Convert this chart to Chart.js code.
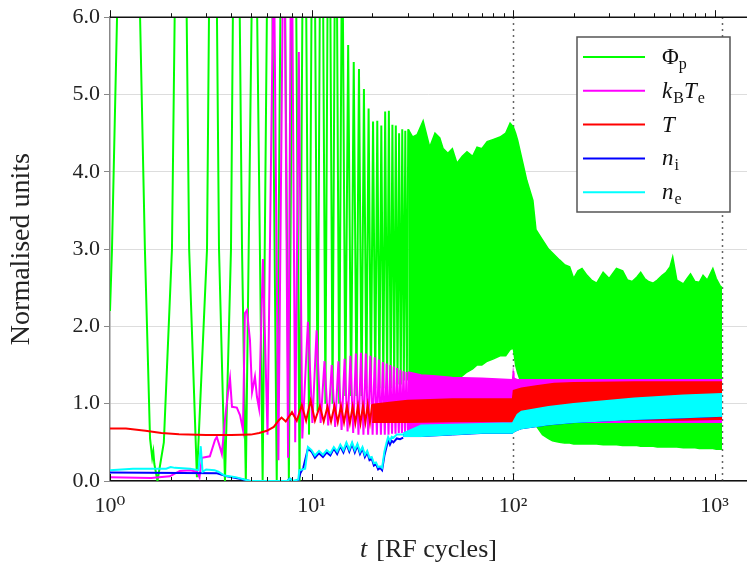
<!DOCTYPE html>
<html>
<head>
<meta charset="utf-8">
<title>Normalised units vs RF cycles</title>
<script src="https://cdn.jsdelivr.net/npm/chart.js@4.4.1/dist/chart.umd.min.js"></script>
<style>
    html, body { margin: 0; padding: 0; background: #fff; }
    #myChart { display: block; }
</style>
</head>
<body>
<canvas id="myChart" width="747" height="572"></canvas>
<script>
// tick labels and titles
const xTickLabels = {1: '10⁰', 10: '10¹', 100: '10²', 1000: '10³'};
const yTitle = 'Normalised units';
const markerTimes = [100, 1090];

// legend names, split into parts for italic / subscript
const seriesLabels = [
    [{t: 'Φ'}, {t: 'p', sub: true}],
    [{t: 'k', it: true}, {t: 'B', sub: true}, {t: 'T', it: true}, {t: 'e', sub: true}],
    [{t: 'T', it: true}],
    [{t: 'n', it: true}, {t: 'i', sub: true}],
    [{t: 'n', it: true}, {t: 'e', sub: true}]
];
const seriesColors = ['#00ff00', '#ff00ff', '#ff0000', '#0000ff', '#00ffff'];

// Phi_p : single cycles up to ~30 RF cycles
const phiT = [1.0, 1.023, 1.24, 1.49, 1.58, 1.62, 1.64, 1.66, 1.72, 1.85, 2.03, 2.25, 2.47, 2.70,
    3.03, 3.24, 3.475, 3.72, 3.985, 4.22, 4.52, 4.72, 5.21, 5.72, 6.2, 6.72, 7.2, 7.72, 8.2, 8.72,
    9.2, 9.72, 10.2, 10.72, 11.2, 11.72, 12.2, 12.72, 13.2, 13.72, 14.2, 14.72, 15.2, 15.72,
    16.2, 16.72, 17.2, 17.72, 18.2, 18.72, 19.2, 19.72, 20.2, 20.72, 21.2, 21.72, 22.2, 22.72,
    23.2, 23.72, 24.2, 24.72, 25.2, 25.72, 26.2, 26.72, 27.2, 27.72, 28.2, 28.72, 29.2, 29.72, 30.2];
const phiV = [2.2, 3.0, 13, 3.0, 0.55, 0.3, 0.38, 0.22, 0.0, 0.5, 3.0, 13, 3.0, 0.05,
    3.0, 12, 3.0, 0.0, 3.0, 11, 3.0, 0.0, 9, 0.0, 10, 0.0, 10, 0.0, 10, 0.0,
    10, 0.6, 10, 0.9, 10, 1.0, 9.5, 1.0, 9, 1.0, 7.5, 1.1, 5.64, 1.1,
    5.42, 1.1, 5.33, 1.1, 5.07, 1.2, 4.82, 1.2, 4.65, 1.2, 4.66, 1.2, 4.6, 1.2,
    4.78, 1.2, 4.79, 1.2, 4.61, 1.25, 4.6, 1.25, 4.5, 1.25, 4.55, 1.3, 4.53, 1.3, 4.55];
// Phi_p : envelope of the dense oscillation
const phiBandT = [30.2, 31.8, 33.4, 35.8, 38.6, 41, 43.3, 45, 47.5, 50, 52.7, 56, 59.1, 63, 66.3,
    70, 74.4, 80, 86.2, 92, 96.7, 100.3, 103, 105.4, 112, 117, 125.5, 130, 140, 150, 157, 170,
    180, 191, 200, 210, 220, 233, 245, 260, 280, 300, 326, 350, 370, 390, 412, 430, 450, 470,
    496, 520, 550, 575, 601, 620, 650, 700, 731, 760, 800, 840, 877, 920, 981, 1020, 1063, 1090];
const phiUp = [4.55, 4.45, 4.48, 4.66, 4.32, 4.5, 4.44, 4.3, 4.24, 4.3, 4.11, 4.2, 4.26, 4.2, 4.32,
    4.3, 4.39, 4.42, 4.45, 4.5, 4.63, 4.58, 4.5, 4.41, 4.11, 3.89, 3.63, 3.25, 3.12, 3.0, 2.95, 2.86,
    2.8, 2.77, 2.62, 2.72, 2.75, 2.66, 2.6, 2.56, 2.7, 2.62, 2.75, 2.72, 2.6, 2.58, 2.64, 2.7, 2.62, 2.58,
    2.56, 2.6, 2.66, 2.7, 2.77, 2.9, 2.6, 2.55, 2.62, 2.68, 2.58, 2.57, 2.66, 2.6, 2.75, 2.62, 2.53, 2.5];
const phiLo = [1.3, 1.3, 1.3, 1.3, 1.3, 1.3, 1.3, 1.3, 1.3, 1.3, 1.32, 1.36, 1.41, 1.45, 1.5,
    1.5, 1.55, 1.58, 1.62, 1.62, 1.7, 1.72, 1.5, 1.4, 1.2, 1.05, 0.85, 0.72, 0.6, 0.55, 0.52, 0.5,
    0.49, 0.49, 0.48, 0.48, 0.48, 0.48, 0.48, 0.48, 0.47, 0.47, 0.47, 0.46, 0.46, 0.46, 0.46, 0.45, 0.45, 0.45,
    0.45, 0.44, 0.44, 0.44, 0.44, 0.44, 0.44, 0.43, 0.43, 0.43, 0.43, 0.42, 0.42, 0.42, 0.42, 0.41, 0.41, 0.41];

// k_B T_e
const teT = [1.0, 1.6, 1.98, 2.22, 2.5, 2.7, 2.78, 2.86, 3.13, 3.32, 3.39, 3.51, 3.59, 3.72, 3.85,
    3.94, 4.03, 4.26, 4.42, 4.57, 4.67, 4.78, 4.95, 5.07, 5.24, 5.36, 5.49, 5.74, 6.05, 6.5, 6.85,
    7.3, 7.65, 7.95, 8.3, 8.65, 9.0, 9.6, 10.1, 10.6, 11.1, 11.6, 12.1, 12.6, 13.1, 13.6, 14.1,
    14.6, 15.1, 15.6, 16.1, 16.6, 17.1, 17.6, 18.1, 18.6, 19.1, 19.6, 20.1, 20.6, 21.1, 21.6, 22.1,
    22.6, 23.1, 23.6, 24.1, 24.6, 25.1, 25.6, 26.1, 26.6, 27.1, 27.6, 28.1, 28.6, 29.1, 29.6, 30.1];
const teV = [0.05, 0.04, 0.06, 0.13, 0.14, 0.12, 0.05, 0.3, 0.32, 0.53, 0.57, 0.44, 0.35, 0.79, 1.14,
    1.33, 0.96, 0.95, 0.85, 0.66, 2.17, 2.21, 1.82, 1.15, 1.35, 1.09, 0.94, 2.87, 0.6, 7, 0.27,
    8, 0.3, 8, 0.5, 5.55, 0.55, 2.06, 0.75, 1.95, 0.75, 1.55, 0.72, 1.5, 0.7, 1.55, 0.66,
    1.58, 0.64, 1.62, 0.62, 1.65, 0.6, 1.66, 0.6, 1.65, 0.6, 1.62, 0.6, 1.6, 0.6, 1.57, 0.6,
    1.54, 0.6, 1.52, 0.6, 1.5, 0.61, 1.48, 0.61, 1.46, 0.62, 1.44, 0.62, 1.42, 0.63, 1.41, 0.63];
const teBandT = [30.1, 35, 40, 50, 70, 99.5, 100.2, 101, 105, 130, 200, 400, 700, 1090];
const teUp = [1.41, 1.37, 1.36, 1.34, 1.33, 1.31, 1.4, 1.33, 1.31, 1.31, 1.31, 1.31, 1.31, 1.31];
const teLo = [0.63, 0.68, 0.7, 0.72, 0.73, 0.74, 0.75, 0.75, 0.75, 0.75, 0.76, 0.76, 0.76, 0.76];

// T
const tempT = [1.0, 1.2, 1.5, 1.8, 2.2, 3.0, 4.0, 5.0, 5.5, 6.0, 6.5, 6.85, 7.1, 7.45, 8.0, 8.45,
    8.95, 9.4, 9.9, 10.4, 11.0, 11.5, 12.0, 12.5, 13.0, 13.5, 14.0, 14.5, 15.0, 15.5, 16.0, 16.5,
    17.0, 17.5, 18.0, 18.5, 19.0, 19.5, 20.0];
const tempV = [0.68, 0.68, 0.65, 0.62, 0.605, 0.595, 0.595, 0.6, 0.62, 0.65, 0.7, 0.78, 0.82, 0.77, 0.89, 0.78,
    0.98, 0.78, 1.04, 0.78, 0.97, 0.77, 0.96, 0.77, 0.97, 0.76, 0.97, 0.76, 0.97, 0.75, 0.96, 0.75,
    0.97, 0.75, 0.97, 0.76, 0.98, 0.76, 0.99];
const tempBandT = [20, 25, 30, 50, 99.5, 100.5, 110, 130, 160, 200, 400, 700, 1090];
const tempUp = [0.99, 1.02, 1.04, 1.06, 1.06, 1.17, 1.2, 1.23, 1.26, 1.27, 1.28, 1.28, 1.28];
const tempLo = [0.76, 0.76, 0.76, 0.77, 0.77, 0.78, 0.78, 0.78, 0.78, 0.78, 0.79, 0.79, 0.8];

// n_i
const niT = [1.0, 3.4, 3.8, 4.4, 4.95, 7.6, 7.8, 8.1, 8.6, 8.8, 9.1, 9.6, 10.0, 10.4, 10.9, 11.4,
    11.9, 12.4, 12.9, 13.4, 13.9, 14.4, 14.9, 15.4, 15.9, 16.4, 16.9, 17.4, 17.9, 18.4, 18.9, 19.4,
    19.9, 20.4, 20.9, 21.4, 21.9, 22.4, 23.0, 23.6, 24.0, 24.5, 25.0, 25.5, 26.5, 27.5, 28.5];
const niV = [0.11, 0.1, 0.06, 0.03, 0.0, 0.0, 0.03, 0.0, 0.0, 0.1, 0.17, 0.42, 0.38, 0.3, 0.36, 0.31,
    0.37, 0.33, 0.42, 0.35, 0.45, 0.37, 0.48, 0.38, 0.48, 0.37, 0.46, 0.35, 0.42, 0.31, 0.37, 0.27,
    0.29, 0.2, 0.22, 0.15, 0.17, 0.14, 0.33, 0.45, 0.53, 0.47, 0.52, 0.5, 0.55, 0.54, 0.56];
const niBandT = [28.5, 35, 50, 70, 99.5, 101, 105, 110, 150, 200, 400, 700, 1090];
const niUp = [0.6, 0.68, 0.7, 0.71, 0.72, 0.76, 0.84, 0.88, 0.94, 0.98, 1.05, 1.09, 1.11];
const niLo = [0.575, 0.575, 0.595, 0.615, 0.615, 0.635, 0.655, 0.675, 0.725, 0.755, 0.795, 0.815, 0.835];

// n_e
const neT = [1.0, 1.3, 1.9, 2.0, 2.1, 2.5, 2.75, 2.82, 2.88, 3.0, 3.3, 3.45, 3.7, 4.2, 4.95, 7.6,
    7.8, 8.1, 8.6, 8.7, 9.3, 9.6, 10.0, 10.4, 10.9, 11.4, 11.9, 12.4, 12.9, 13.4, 13.9, 14.4,
    14.9, 15.4, 15.9, 16.4, 16.9, 17.4, 17.9, 18.4, 18.9, 19.4, 19.9, 20.4, 20.9, 21.4, 21.9,
    22.4, 23.0, 23.6, 24.0, 24.5, 25.0, 25.5, 26.5, 27.5, 28.5];
const neV = [0.14, 0.16, 0.16, 0.18, 0.17, 0.16, 0.14, 0.45, 0.12, 0.15, 0.14, 0.12, 0.07, 0.05, 0.0, 0.0,
    0.03, 0.0, 0.02, 0.14, 0.16, 0.44, 0.4, 0.33, 0.39, 0.34, 0.4, 0.36, 0.44, 0.38, 0.47, 0.4,
    0.5, 0.41, 0.5, 0.4, 0.48, 0.38, 0.44, 0.34, 0.39, 0.3, 0.31, 0.23, 0.24, 0.18, 0.19,
    0.17, 0.38, 0.5, 0.57, 0.52, 0.57, 0.56, 0.6, 0.6, 0.6];
const neBandT = [28.5, 35, 50, 70, 99.5, 101, 105, 110, 150, 200, 400, 700, 1090];
const neUp = [0.62, 0.72, 0.73, 0.74, 0.75, 0.78, 0.86, 0.9, 0.96, 1.0, 1.07, 1.11, 1.13];
const neLo = [0.58, 0.58, 0.6, 0.62, 0.62, 0.64, 0.66, 0.68, 0.73, 0.76, 0.8, 0.82, 0.84];

const serif = '"Liberation Serif", "DejaVu Serif", serif';

function pts(ts, vs) {
    return ts.map((t, i) => ({x: t, y: vs[i]}));
}

function curve(ts, vs, color, order) {
    return {data: pts(ts, vs), borderColor: color, backgroundColor: color, borderWidth: 2,
        pointRadius: 0, tension: 0, fill: false, order: order};
}

// upper edge filled down to the lower edge (next dataset)
function band(ts, up, lo, color, order, width) {
    return [
        {data: pts(ts, up), borderColor: color, backgroundColor: color, borderWidth: width,
            pointRadius: 0, tension: 0, fill: '+1', order: order},
        {data: pts(ts, lo), borderColor: color, backgroundColor: color, borderWidth: width,
            pointRadius: 0, tension: 0, fill: false, order: order}
    ];
}

const datasets = [
    curve(neT, neV, seriesColors[4], 1), ...band(neBandT, neUp, neLo, seriesColors[4], 1, 1.5),
    curve(niT, niV, seriesColors[3], 2), ...band(niBandT, niUp, niLo, seriesColors[3], 2, 1),
    curve(tempT, tempV, seriesColors[2], 3), ...band(tempBandT, tempUp, tempLo, seriesColors[2], 3, 1.5),
    curve(teT, teV, seriesColors[1], 4), ...band(teBandT, teUp, teLo, seriesColors[1], 4, 1.5),
    curve(phiT, phiV, seriesColors[0], 5), ...band(phiBandT, phiUp, phiLo, seriesColors[0], 5, 1.5)
];

function drawParts(ctx, parts, x, y, size) {
    parts.forEach(p => {
        const fs = p.sub ? Math.round(size * 0.7) : size;
        ctx.font = (p.it ? 'italic ' : '') + fs + 'px ' + serif;
        ctx.fillText(p.t, x, p.sub ? y + 5 : y);
        x += ctx.measureText(p.t).width + (p.it ? 1 : 0);
    });
}

const decor = {
    id: 'decor',
    beforeDatasetsDraw(chart) {
        const {ctx, chartArea: a, scales: {x}} = chart;
        ctx.save();
        ctx.strokeStyle = '#333';
        ctx.lineWidth = 1.5;
        ctx.setLineDash([1.5, 4.5]);
        markerTimes.forEach(t => {
            const px = Math.round(x.getPixelForValue(t)) + 0.5;
            ctx.beginPath();
            ctx.moveTo(px, a.top);
            ctx.lineTo(px, a.bottom);
            ctx.stroke();
        });
        ctx.restore();
    },
    afterDatasetsDraw(chart) {
        const {ctx, chartArea: a, scales: {x}} = chart;
        ctx.save();
        ctx.strokeStyle = '#111';
        ctx.lineWidth = 1.5;
        ctx.beginPath();
        ctx.moveTo(a.left, a.top);
        ctx.lineTo(a.right, a.top);
        ctx.stroke();
        ctx.lineWidth = 1;
        for (let e = 0; e <= 3; e++) {
            for (let k = 1; k <= 9; k++) {
                const v = k * Math.pow(10, e);
                if (v > x.max) break;
                const px = Math.round(x.getPixelForValue(v)) + 0.5;
                const len = k === 1 ? 7 : 4;
                ctx.beginPath();
                ctx.moveTo(px, a.top);
                ctx.lineTo(px, a.top - len);
                ctx.moveTo(px, a.bottom);
                ctx.lineTo(px, a.bottom - len);
                ctx.stroke();
            }
        }
        ctx.restore();
    },
    afterDraw(chart) {
        const {ctx, chartArea: a} = chart;
        ctx.save();
        // legend
        const bx = 577, by = 37, bw = 153, bh = 175;
        ctx.fillStyle = '#fff';
        ctx.fillRect(bx, by, bw, bh);
        ctx.strokeStyle = '#555';
        ctx.lineWidth = 1.5;
        ctx.strokeRect(bx, by, bw, bh);
        seriesLabels.forEach((parts, i) => {
            const y = 57 + i * 33.8;
            ctx.strokeStyle = seriesColors[i];
            ctx.lineWidth = 2;
            ctx.beginPath();
            ctx.moveTo(583, y);
            ctx.lineTo(645, y);
            ctx.stroke();
            ctx.fillStyle = '#111';
            ctx.textBaseline = 'alphabetic';
            drawParts(ctx, parts, 662, y + 7, 23);
        });
        // axis titles
        ctx.fillStyle = '#222';
        ctx.textAlign = 'center';
        ctx.textBaseline = 'middle';
        ctx.font = '28px ' + serif;
        ctx.translate(22, (a.top + a.bottom) / 2);
        ctx.rotate(-Math.PI / 2);
        ctx.fillText(yTitle, 0, 0);
        ctx.restore();

        ctx.save();
        ctx.fillStyle = '#222';
        ctx.textBaseline = 'alphabetic';
        ctx.font = 'italic 26px ' + serif;
        const tw = ctx.measureText('t').width;
        ctx.font = '26px ' + serif;
        const rest = '[RF cycles]';
        const rw = ctx.measureText(rest).width;
        const gap = 9;
        const x0 = (a.left + a.right) / 2 - (tw + gap + rw) / 2;
        ctx.font = 'italic 26px ' + serif;
        ctx.fillText('t', x0, 557);
        ctx.font = '26px ' + serif;
        ctx.fillText(rest, x0 + tw + gap, 557);
        ctx.restore();
    }
};

new Chart(document.getElementById('myChart'), {
    type: 'line',
    data: {datasets: datasets},
    options: {
        responsive: false,
        animation: false,
        devicePixelRatio: 1,
        layout: {padding: {top: 17, right: 0, left: 0, bottom: 0}},
        plugins: {legend: {display: false}, tooltip: {enabled: false}},
        scales: {
            x: {
                type: 'logarithmic',
                min: 1,
                max: 1449,
                grid: {display: false, drawTicks: false},
                border: {display: true, color: '#111', width: 1.5},
                ticks: {
                    autoSkip: false,
                    maxRotation: 0,
                    padding: 12,
                    color: '#222',
                    font: {family: serif, size: 22},
                    callback: function (value) {
                        return xTickLabels[Math.round(value)] && Math.abs(value - Math.round(value)) < 1e-6
                            ? xTickLabels[Math.round(value)] : '';
                    }
                },
                afterFit: function (scale) {
                    scale.height = 91;
                    scale.paddingRight = 0;
                    scale.paddingLeft = 0;
                }
            },
            y: {
                min: 0,
                max: 6,
                grid: {color: '#dddddd', lineWidth: 1, tickColor: '#888', tickLength: 6},
                border: {display: true, color: '#888', width: 1.5},
                ticks: {
                    stepSize: 1,
                    padding: 4,
                    color: '#222',
                    font: {family: serif, size: 22},
                    callback: function (value) { return value.toFixed(1); }
                },
                afterFit: function (scale) { scale.width = 110; }
            }
        }
    },
    plugins: [decor]
});
</script>
</body>
</html>
